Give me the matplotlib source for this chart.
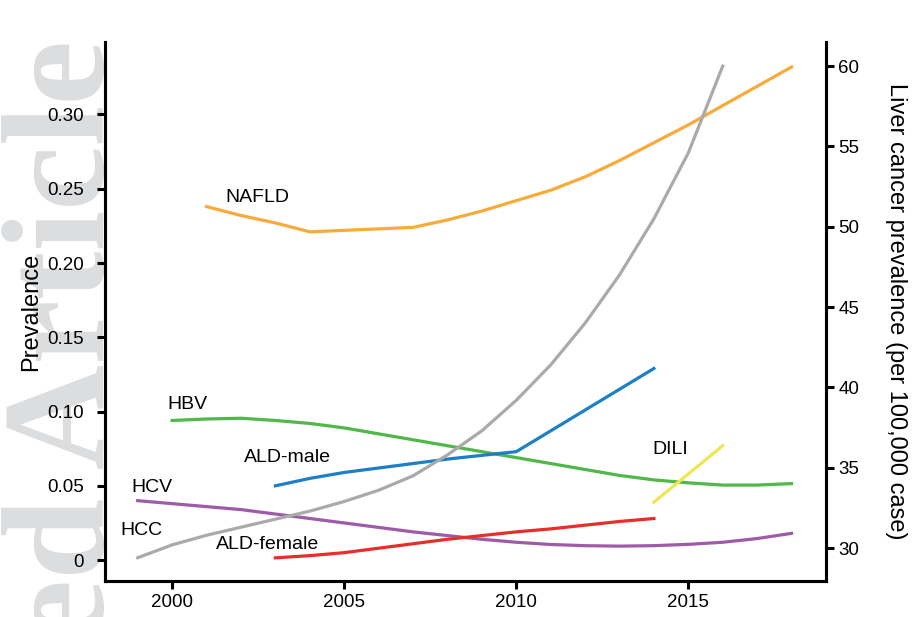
import matplotlib.pyplot as plt

plt.rcParams['font.family'] = ['Liberation Sans', 'DejaVu Sans']

# prevalence series (left axis)
nafld_years = [2001, 2002, 2003, 2004, 2005, 2006, 2007, 2008, 2009, 2010,
               2011, 2012, 2013, 2014, 2015, 2016, 2017, 2018]
nafld = [0.238, 0.232, 0.227, 0.221, 0.222, 0.223, 0.224, 0.229, 0.235, 0.242,
         0.249, 0.258, 0.269, 0.281, 0.293, 0.306, 0.319, 0.332]

hbv_years = list(range(2000, 2019))
hbv = [0.094, 0.095, 0.0955, 0.094, 0.092, 0.089, 0.085, 0.081, 0.077, 0.073,
       0.069, 0.065, 0.061, 0.057, 0.054, 0.052, 0.0505, 0.0505, 0.0515]

hcv_years = list(range(1999, 2019))
hcv = [0.040, 0.038, 0.036, 0.034, 0.031, 0.028, 0.025, 0.022, 0.019, 0.0165,
       0.014, 0.012, 0.0105, 0.0097, 0.0094, 0.0097, 0.0106, 0.012, 0.0145, 0.018]

ald_years = list(range(2003, 2015))
ald_male = [0.050, 0.055, 0.059, 0.062, 0.065, 0.068, 0.0705, 0.073,
            0.087, 0.101, 0.115, 0.129]
ald_female = [0.0015, 0.003, 0.005, 0.008, 0.011, 0.014, 0.0165, 0.019,
              0.021, 0.0235, 0.026, 0.028]

dili_years = [2014, 2015, 2016]
dili = [0.039, 0.058, 0.077]

# liver cancer prevalence per 100,000 (right axis)
hcc_years = list(range(1999, 2017))
hcc = [29.4, 30.2, 30.8, 31.3, 31.8, 32.3, 32.9, 33.6, 34.5, 35.8,
       37.3, 39.2, 41.4, 44.0, 47.0, 50.5, 54.6, 60.0]

left_ticks = [0, 0.05, 0.10, 0.15, 0.20, 0.25, 0.30]
left_ticklabels = ['0', '0.05', '0.10', '0.15', '0.20', '0.25', '0.30']
right_ticks = [30, 35, 40, 45, 50, 55, 60]
x_ticks = [2000, 2005, 2010, 2015]

fig = plt.figure(figsize=(9.15, 6.17), dpi=100)
ax = fig.add_axes([0.1148, 0.0583, 0.7879, 0.8736])
ax.set_facecolor('none')

# faint journal watermark behind everything
fig.text(104 / 915, 1 - 40 / 617, 'Accepted Article', rotation=90,
         rotation_mode='anchor', ha='right', va='baseline',
         fontsize=105, fontweight='bold', family='Liberation Serif',
         color='#dcdddf', zorder=-1)

lw = 2.3
ax.plot(nafld_years, nafld, color='#f8aa3a', lw=lw)
ax.plot(hbv_years, hbv, color='#4fb848', lw=lw)
ax.plot(hcv_years, hcv, color='#9e5ba8', lw=lw)
ax.plot(ald_years, ald_male, color='#1d7fc4', lw=lw)
ax.plot(ald_years, ald_female, color='#e62e2a', lw=lw)
ax.plot(dili_years, dili, color='#efe751', lw=lw)

ax2 = ax.twinx()
ax2.plot(hcc_years, hcc, color='#aaaaaa', lw=lw)

ax.set_xlim(1998.05, 2019.0)
ax.set_ylim(-0.0141, 0.3488)
ax2.set_ylim(27.95, 61.5)

ax.set_xticks(x_ticks)
ax.set_yticks(left_ticks)
ax.set_yticklabels(left_ticklabels)
ax2.set_yticks(right_ticks)

for a in (ax, ax2):
    for s in a.spines.values():
        s.set_linewidth(2.2)
    a.spines['top'].set_visible(False)
    a.tick_params(width=2.2, length=6, labelsize=13.5)
ax.tick_params(axis='y', pad=9)
ax.tick_params(axis='x', pad=3)
ax2.tick_params(axis='y', pad=3)

ax.set_ylabel('Prevalence', fontsize=17, labelpad=4)
ax2.set_ylabel('Liver cancer prevalence (per 100,000 case)', fontsize=17,
               rotation=270, labelpad=34)

fs = 14
ax.text(2001.54, 0.2438, 'NAFLD', fontsize=fs, va='center')
ax.text(1999.85, 0.105, 'HBV', fontsize=fs, va='center')
ax.text(2002.09, 0.0694, 'ALD-male', fontsize=fs, va='center')
ax.text(1998.81, 0.0492, 'HCV', fontsize=fs, va='center')
ax.text(1998.49, 0.0202, 'HCC', fontsize=fs, va='center')
ax.text(2001.28, 0.0108, 'ALD-female', fontsize=fs, va='center')
ax.text(2013.95, 0.0747, 'DILI', fontsize=fs, va='center')

fig.savefig('out.png', dpi=100)
